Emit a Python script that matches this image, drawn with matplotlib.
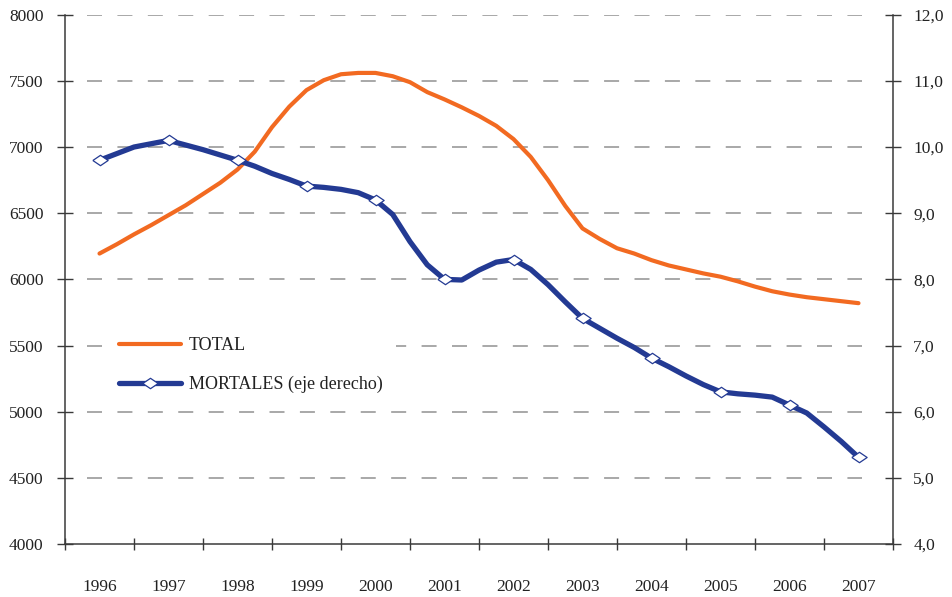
import numpy as np
import matplotlib
matplotlib.use('Agg')
import matplotlib.pyplot as plt
from matplotlib.ticker import FuncFormatter, MultipleLocator, FixedLocator

plt.rcParams['font.family'] = ['Liberation Serif', 'DejaVu Serif']
plt.rcParams['lines.scale_dashes'] = False

years = list(range(1996, 2008))

# quarterly readings, 1996 Q1 ... 2007 Q1 (markers on every 4th point)
total = [6195, 6265, 6340, 6410, 6485, 6560, 6645, 6730, 6830, 6965,
         7150, 7305, 7430, 7505, 7550, 7560, 7560, 7535, 7490, 7415,
         7360, 7300, 7235, 7160, 7060, 6925, 6750, 6555, 6385, 6305,
         6235, 6195, 6145, 6105, 6075, 6045, 6020, 5985, 5945, 5910,
         5885, 5865, 5850, 5835, 5820]

mortales = [9.80, 9.90, 10.00, 10.05, 10.10, 10.03, 9.96, 9.88, 9.80, 9.71,
            9.60, 9.51, 9.41, 9.39, 9.36, 9.31, 9.20, 8.98, 8.57, 8.22,
            8.00, 7.99, 8.14, 8.26, 8.30, 8.15, 7.92, 7.66, 7.41, 7.26,
            7.11, 6.97, 6.81, 6.68, 6.54, 6.41, 6.30, 6.27, 6.25, 6.22,
            6.10, 5.98, 5.77, 5.55, 5.31]

t = 1996 + np.arange(len(total)) / 4.0

orange = '#F26A21'
navy = '#233A93'
axis_col = '#3a3a3a'
text_col = '#222222'

fig = plt.figure(figsize=(9.53, 5.97), dpi=100)
ax = fig.add_axes([65/953, 1 - 544/597, 828/953, (544 - 14.7)/597])
ax2 = ax.twinx()

l1, = ax.plot(t, total, color=orange, lw=3.0, solid_capstyle='round',
              solid_joinstyle='round', label='TOTAL', zorder=3)

diamond = [(-1, 0), (0, 0.68), (1, 0), (0, -0.68), (-1, 0)]
l2, = ax2.plot(t, mortales, color=navy, lw=3.8, solid_capstyle='round',
               solid_joinstyle='round', marker=diamond, markevery=4,
               markersize=11, markerfacecolor='white', markeredgecolor=navy,
               markeredgewidth=0.9, label='MORTALES (eje derecho)', zorder=3)

ax.set_xlim(1995.5, 2007.5)
ax.set_ylim(4000, 8000)
ax2.set_ylim(4, 12)

ax.yaxis.set_major_locator(MultipleLocator(500))
ax2.yaxis.set_major_locator(MultipleLocator(1))
ax2.yaxis.set_major_formatter(FuncFormatter(lambda v, p: f'{v:.1f}'.replace('.', ',')))

ax.xaxis.set_major_locator(FixedLocator([y - 0.5 for y in years] + [2007.5]))
ax.xaxis.set_minor_locator(FixedLocator(years))
ax.xaxis.set_major_formatter(FuncFormatter(lambda v, p: ''))
ax.xaxis.set_minor_formatter(FuncFormatter(lambda v, p: str(int(round(v)))))

# dashed grey gridlines, inset from both axes like the original
for v in np.arange(4500, 8001, 500):
    ax.axhline(v, xmin=22/828, xmax=(862 - 65)/828, color='#9a9a9a', lw=1.2,
               linestyle=(0, (10.8, 11.1)), zorder=0)

for a in (ax, ax2):
    a.spines['top'].set_visible(False)
    for s in a.spines.values():
        s.set_color(axis_col)
        s.set_linewidth(1.1)
ax.spines['right'].set_visible(False)
ax2.spines['left'].set_visible(False)
ax2.spines['bottom'].set_visible(False)

ax.tick_params(axis='y', direction='inout', length=11, width=1.0, color=axis_col,
               labelsize=12.5, labelcolor=text_col, pad=10)
ax2.tick_params(axis='y', direction='inout', length=11, width=1.0, color=axis_col,
                labelsize=12.5, labelcolor=text_col, pad=9)
ax.tick_params(axis='x', which='major', direction='inout', length=9, width=1.0,
               color=axis_col)
ax.tick_params(axis='x', which='minor', length=0, labelsize=12.5,
               labelcolor=text_col, pad=25)

leg = ax.legend([l1, l2], ['TOTAL', 'MORTALES (eje derecho)'], loc='center left',
                bbox_to_anchor=((119 - 14 - 65)/828, (544 - 365)/529.3),
                frameon=True, facecolor='white', edgecolor='none', framealpha=1,
                fancybox=False, fontsize=13, handlelength=3.45,
                handletextpad=0.4, labelspacing=1.2, borderpad=0.78,
                borderaxespad=0, labelcolor=text_col)
leg.set_zorder(2)

fig.savefig('out.png', dpi=100)
